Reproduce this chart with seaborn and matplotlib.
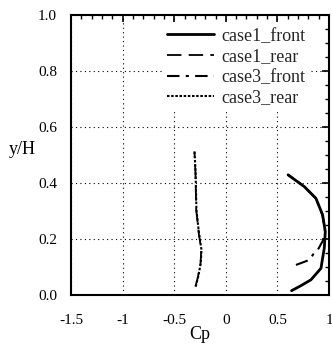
import matplotlib
matplotlib.use("Agg")
import matplotlib.pyplot as plt
import seaborn as sns
import numpy as np
from matplotlib.ticker import MultipleLocator, FixedLocator

sns.set_style("white")
plt.rcParams['font.family'] = ['Liberation Serif', 'DejaVu Serif']

# data
case1_front_y = [0.015, 0.033, 0.054, 0.095, 0.167, 0.226, 0.286, 0.345, 0.387, 0.429]
case1_front_cp = [0.637, 0.728, 0.825, 0.922, 0.954, 0.964, 0.938, 0.873, 0.76, 0.603]
case1_rear_y = [0.03, 0.065, 0.113, 0.161, 0.22, 0.304, 0.435, 0.512]
case1_rear_cp = [-0.294, -0.27, -0.245, -0.238, -0.262, -0.287, -0.294, -0.304]
case3_front_y = [0.107, 0.125, 0.152, 0.16, 0.2, 0.226, 0.286, 0.345, 0.387, 0.429]
case3_front_cp = [0.68, 0.81, 0.86, 0.89, 0.95, 0.962, 0.936, 0.872, 0.76, 0.603]
case3_rear_y = [0.03, 0.065, 0.113, 0.161, 0.22, 0.304, 0.435, 0.512]
case3_rear_cp = [-0.292, -0.268, -0.243, -0.236, -0.26, -0.285, -0.293, -0.303]

x_ticks = [-1.5, -1, -0.5, 0, 0.5, 1]
x_labels = ["-1.5", "-1", "-0.5", "0", "0.5", "1"]
y_ticks = [0.0, 0.2, 0.4, 0.6, 0.8, 1.0]
y_labels = ["0.0", "0.2", "0.4", "0.6", "0.8", "1.0"]

fig = plt.figure(figsize=(3.32, 3.49), dpi=100)
ax = fig.add_axes([0.214, 0.155, 0.777, 0.802])

series = [
    ("case1_front", case1_front_cp, case1_front_y, dict(linestyle="-", linewidth=2.0)),
    ("case1_rear", case1_rear_cp, case1_rear_y, dict(linestyle=(0, (8, 4)), linewidth=1.3)),
    ("case3_front", case3_front_cp, case3_front_y, dict(linestyle=(0, (6, 3, 1.5, 3)), linewidth=1.5)),
    ("case3_rear", case3_rear_cp, case3_rear_y, dict(linestyle=(0, (1.2, 0.8)), linewidth=1.5)),
]
for name, cp, yy, st in series:
    sns.lineplot(x=cp, y=yy, sort=False, estimator=None, color="black", ax=ax, label=name, **st)

ax.set_xlim(-1.5, 1.0)
ax.set_ylim(0.0, 1.0)
ax.xaxis.set_major_locator(FixedLocator(x_ticks))
ax.set_xticklabels(x_labels)
ax.yaxis.set_major_locator(FixedLocator(y_ticks))
ax.set_yticklabels(y_labels)
ax.xaxis.set_minor_locator(MultipleLocator(0.1))
ax.yaxis.set_minor_locator(MultipleLocator(0.05))
ax.tick_params(which="both", direction="in", top=True, right=True, color="black",
               labelsize=11, labelcolor="black")
ax.tick_params(which="major", length=5, width=1.2)
ax.tick_params(which="minor", length=3, width=1.0)
ax.tick_params(axis="x", pad=14)
ax.tick_params(axis="y", pad=10)
for s in ax.spines.values():
    s.set_color("black")
    s.set_linewidth(1.5)

ax.grid(True, which="major", color="black", linestyle=(0, (1, 3)), linewidth=0.8)
ax.set_axisbelow(False)

ax.set_xlabel("Cp", fontsize=13, color="black")
ax.xaxis.set_label_coords(0.5, -0.112)
ax.set_ylabel("y/H", fontsize=13, rotation=0, color="black", va="center", ha="center")
ax.yaxis.set_label_coords(-0.19, 0.518)

leg = ax.legend(loc="upper right", bbox_to_anchor=(0.929, 0.974), fontsize=13,
                frameon=True, framealpha=1.0,
                edgecolor="white", facecolor="white", handlelength=2.6,
                labelspacing=0.2, borderaxespad=0.0, handletextpad=0.4, fancybox=False,
                borderpad=0.3)
leg.get_frame().set_linewidth(0)

fig.savefig("out.png", dpi=100)
